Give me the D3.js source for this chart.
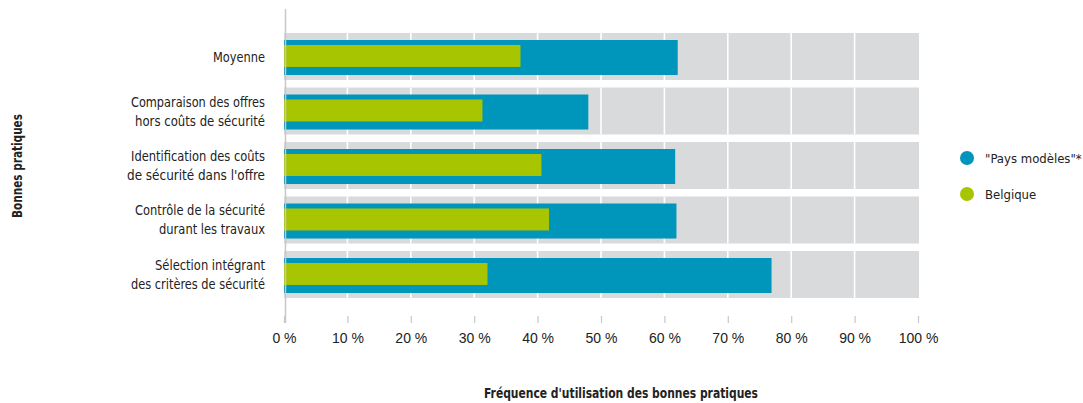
<!DOCTYPE html>
<html>
<head>
<meta charset="utf-8">
<script src="https://cdn.jsdelivr.net/npm/d3@7"></script>
<style>
  html, body { margin: 0; padding: 0; background: #fff; }
  svg { display: block; font-family: "DejaVu Sans Condensed", "DejaVu Sans", sans-serif; font-stretch: condensed; }
</style>
</head>
<body>
<svg id="chart" width="1083" height="403"></svg>
<script>
// Bonnes pratiques (each label split over lines)
const categories = [
  ["Moyenne"],
  ["Comparaison des offres", "hors coûts de sécurité"],
  ["Identification des coûts", "de sécurité dans l'offre"],
  ["Contrôle de la sécurité", "durant les travaux"],
  ["Sélection intégrant", "des critères de sécurité"]
];
// Fréquence d'utilisation (%)
const paysModeles = [62.1, 48.0, 61.7, 61.9, 76.9];
const belgique = [37.3, 31.3, 40.6, 41.8, 32.1];
const xTicks = [0, 10, 20, 30, 40, 50, 60, 70, 80, 90, 100];
const seriesNames = ["\"Pays modèles\"*", "Belgique"];

const colors = { blue: "#0095ba", green: "#a7c500", band: "#d9dadc", text: "#222222", axis: "#c8c8c8" };

const svg = d3.select("#chart");
const keys = categories.map(c => c.join(" "));

const x = d3.scaleLinear().domain([0, 100]).range([284, 918]);
const y = d3.scaleBand().domain(keys).range([33, 298]).paddingInner(0.1376).paddingOuter(0);

// background bands
svg.append("g").selectAll("rect").data(keys).join("rect")
  .attr("x", x(0)).attr("y", d => y(d))
  .attr("width", x(100) - x(0) + 1).attr("height", y.bandwidth())
  .attr("fill", colors.band);

// white grid lines across the bands
const grid = svg.append("g");
keys.forEach(k => {
  grid.selectAll(null).data(xTicks.slice(1, -1)).join("line")
    .attr("x1", d => x(d)).attr("x2", d => x(d))
    .attr("y1", y(k)).attr("y2", y(k) + y.bandwidth())
    .attr("stroke", "#fff").attr("stroke-width", 1.6);
});

const bw = y.bandwidth();
// "Pays modèles" bars
svg.append("g").selectAll("rect").data(paysModeles).join("rect")
  .attr("x", x(0)).attr("y", (d, i) => y(keys[i]) + bw * 0.149)
  .attr("width", d => x(d) - x(0)).attr("height", bw * 0.745)
  .attr("fill", colors.blue);

// Belgique bars
svg.append("g").selectAll("rect").data(belgique).join("rect")
  .attr("x", x(0)).attr("y", (d, i) => y(keys[i]) + bw * 0.255)
  .attr("width", d => x(d) - x(0)).attr("height", bw * 0.468)
  .attr("fill", colors.green);

// vertical axis line
svg.append("line")
  .attr("x1", 285.5).attr("x2", 285.5).attr("y1", 9).attr("y2", 323)
  .attr("stroke", colors.axis).attr("stroke-width", 1.5);

// shrink a text horizontally until it reaches a given width
function fitWidth(sel, w) {
  sel.each(function () {
    const len = this.getComputedTextLength();
    if (len > w) {
      d3.select(this).attr("textLength", w).attr("lengthAdjust", "spacingAndGlyphs");
    }
  });
}

// category labels
const labels = svg.append("g");
const labelWidths = [[52], [134, 130], [134, 138], [130, 106], [110, 134]];
categories.forEach((lines, i) => {
  const cy = y(keys[i]) + bw / 2;
  const lh = 19;
  lines.forEach((ln, j) => {
    const t = labels.append("text")
      .attr("text-anchor", "end")
      .attr("font-size", 14)
      .attr("fill", colors.text)
      .attr("x", 265)
      .attr("y", cy + (j - (lines.length - 1) / 2) * lh + 5)
      .text(ln);
    fitWidth(t, labelWidths[i][j]);
  });
});

// x axis
const xAxis = d3.axisBottom(x).tickValues(xTicks).tickSize(7).tickFormat(d => d + " %");
const gx = svg.append("g").attr("transform", "translate(0,316)").call(xAxis);
gx.select(".domain").remove();
gx.selectAll(".tick line").attr("stroke", colors.axis).attr("stroke-width", 1.2);
gx.selectAll(".tick text").attr("font-size", 14).attr("fill", colors.text).attr("dy", "1.2em")
  .attr("font-family", null);

// axis titles
const xt = svg.append("text")
  .attr("x", 621).attr("y", 398)
  .attr("text-anchor", "middle").attr("font-size", 14).attr("font-weight", "bold")
  .attr("fill", colors.text)
  .text("Fréquence d'utilisation des bonnes pratiques");
fitWidth(xt, 274);

const yt = svg.append("text")
  .attr("transform", "translate(22,166) rotate(-90)")
  .attr("text-anchor", "middle").attr("font-size", 14).attr("font-weight", "bold")
  .attr("fill", colors.text)
  .text("Bonnes pratiques");
fitWidth(yt, 104);

// legend
const legend = svg.append("g");
[colors.blue, colors.green].forEach((c, i) => {
  const ly = 158 + i * 36;
  legend.append("circle").attr("cx", 967).attr("cy", ly).attr("r", 7).attr("fill", c);
  legend.append("text").attr("x", 985).attr("y", ly + 5)
    .attr("font-size", 13).attr("fill", colors.text).text(seriesNames[i]);
});
</script>
</body>
</html>
